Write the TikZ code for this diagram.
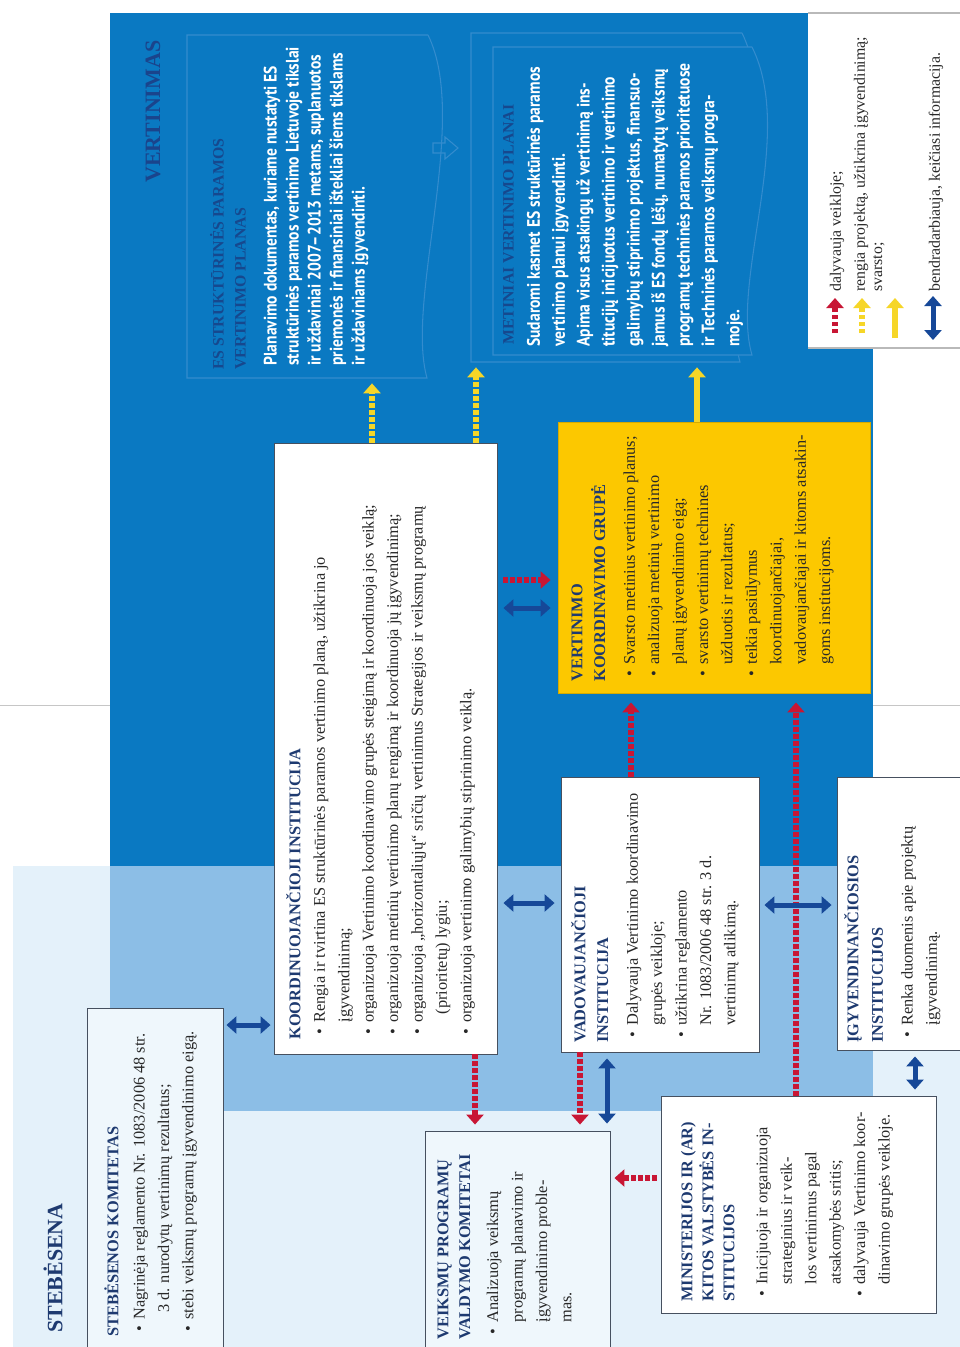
\documentclass[tikz,border=0pt]{standalone}
\usepackage{fontspec}
\setmainfont{Liberation Serif}
\newfontfamily\docfont[FakeStretch=0.86]{PT Sans}
\usetikzlibrary{arrows.meta,fit}
\definecolor{vertblue}{RGB}{10,121,194}
\definecolor{overblue}{RGB}{140,190,230}
\definecolor{stebpale}{RGB}{228,241,250}
\definecolor{navy}{RGB}{30,58,112}
\definecolor{vertnavy}{RGB}{26,68,140}
\definecolor{docnavy}{RGB}{22,72,142}
\definecolor{doclinecol}{RGB}{52,140,206}
\definecolor{grupyel}{RGB}{252,200,0}
\definecolor{arrred}{RGB}{200,22,52}
\definecolor{arryel}{RGB}{246,214,40}
\definecolor{arrblue}{RGB}{22,72,152}
\definecolor{boxline}{RGB}{70,80,95}
\definecolor{bodytext}{RGB}{40,40,40}

\newcommand{\boxhead}[1]{{\color{navy}\bfseries #1}}
\newcommand{\itm}{\hspace*{0.3em}\makebox[0.75em][l]{\textbullet}}
\newcommand{\ind}{\hspace*{1.05em}}

\begin{document}
\begin{tikzpicture}[x=0.02cm, y=-0.02cm,
    instbox/.style={draw=boxline, line width=0.5pt, inner sep=0pt},
    whitebox/.style={instbox, fill=white},
    palebox/.style={instbox, fill=stebpale!60!white},
    boxtext/.style={rotate=90, anchor=north west, inner sep=0pt, align=left, text=bodytext, font=\fontsize{9.3}{13.9}\selectfont},
    doctext/.style={rotate=90, anchor=north west, inner sep=0pt, align=left, text=white, font=\docfont\bfseries\fontsize{10.3}{12.5}\selectfont},
    doctitle/.style={rotate=90, anchor=north west, inner sep=0pt, align=left, text=docnavy, font=\bfseries\fontsize{9}{12.5}\selectfont},
    bigtitle/.style={rotate=90, anchor=west, inner sep=0pt, text=navy, font=\bfseries\fontsize{12.5}{15}\selectfont},
    legtext/.style={rotate=90, anchor=west, inner sep=0pt, text=bodytext, font=\fontsize{9}{11}\selectfont},
    docoutline/.style={draw=doclinecol, line width=0.6pt},
    redarr/.style={draw=arrred, line width=0.11cm, dash pattern=on 0.09cm off 0.05cm, -{Triangle[width=0.34cm,length=0.2cm]}},
    yelarr/.style={draw=arryel, line width=0.11cm, dash pattern=on 0.09cm off 0.05cm, -{Triangle[width=0.34cm,length=0.2cm]}},
    yelsolid/.style={draw=arryel, line width=0.11cm, -{Triangle[width=0.34cm,length=0.2cm]}},
    bluearr/.style={draw=arrblue, line width=0.1cm, {Triangle[width=0.34cm,length=0.2cm]}-{Triangle[width=0.34cm,length=0.2cm]}}]
\useasboundingbox (0,0) rectangle (960,1347);

% areas
\fill[stebpale] (13,866) rectangle (960,1347);
\fill[vertblue] (110,13) rectangle (873,866);
\fill[overblue] (110,866) rectangle (873,1111);
\fill[white] (808,13) rectangle (960,348);
\draw[gray!55, line width=0.6pt] (808,13) -- (960,13) (808,348) -- (960,348);
\draw[gray!45, line width=0.5pt] (0,705) -- (110,705) (873,705) -- (960,705);

\node[bigtitle] (stebttl) at (53,1333) {STEBĖSENA};
\node[bigtitle, text=vertnavy] (vertttl) at (153,183) {VERTINIMAS};

% documents
\node[fit={(187,35) (447,378)}, inner sep=0pt] (esplan) {};
\node[fit={(471,33) (760,362)}, inner sep=0pt] (metplan) {};
\draw[docoutline] (428,35) -- (187,35) -- (187,378) -- (427,378) .. controls (405,300) and (470,120) .. (428,35);
\draw[docoutline] (433,143) -- (445,143) -- (445,137) -- (458,148) -- (445,159) -- (445,153) -- (433,153) -- cycle;
\draw[docoutline] (742,33) -- (471,33) -- (471,362) -- (740,362) .. controls (718,285) and (785,120) .. (742,33);
\draw[docoutline, fill=vertblue] (752,47) -- (493,47) -- (493,355) -- (752,355) .. controls (730,280) and (796,135) .. (752,47);

\node[doctitle] (estitle) at (208,370) {\strut ES STRUKTŪRINĖS PARAMOS\\VERTINIMO PLANAS};
\node[doctext] (esbody) at (261,366) {\strut Planavimo dokumentas, kuriame nustatyti ES\\
struktūrinės paramos vertinimo Lietuvoje tikslai\\
ir uždaviniai 2007–2013 metams, suplanuotos\\
priemonės ir finansiniai ištekliai šiems tikslams\\
ir uždaviniams įgyvendinti.};

\node[doctitle] (mettitle) at (498,345) {\strut METINIAI VERTINIMO PLANAI};
\node[doctext, font=\docfont\bfseries\fontsize{10.3}{14.2}\selectfont] (metbody) at (522,347) {\strut Sudaromi kasmet ES struktūrinės paramos\\
vertinimo planui įgyvendinti.\\
Apima visus atsakingų už vertinimą ins-\\
titucijų inicijuotus vertinimo ir vertinimo\\
galimybių stiprinimo projektus, finansuo-\\
jamus iš ES fondų lėšų, numatytų veiksmų\\
programų techninės paramos prioritetuose\\
ir Techninės paramos veiksmų progra-\\
moje.};

% boxes
\node[palebox, fit={(87,1008) (223,1360)}] (steb) {};
\node[whitebox, fit={(274,443) (497,1054)}] (koord) {};
\node[instbox, draw=grupyel!85!black, fill=grupyel, fit={(558,422) (870,693)}] (vkg) {};
\node[whitebox, fit={(561,777) (759,1052)}] (vadov) {};
\node[whitebox, fit={(837,777) (975,1050)}] (igyv) {};
\node[whitebox, fit={(661,1096) (936,1313)}] (minist) {};
\node[palebox, fit={(425,1131) (610,1360)}] (veiksmu) {};

\node[boxtext] (stebtxt) at (101,1337) {\strut\boxhead{STEBĖSENOS KOMITETAS}\\[1pt]
\itm Nagrinėja reglamento Nr. 1083/2006 48 str.\\
\ind\hspace*{0.4em}3 d. nurodytų vertinimų rezultatus;\\
\itm stebi veiksmų programų įgyvendinimo eigą.};

\node[boxtext] (koordtxt) at (283,1040) {\strut\boxhead{KOORDINUOJANČIOJI INSTITUCIJA}\\
\itm Rengia ir tvirtina ES struktūrinės paramos vertinimo planą, užtikrina jo\\
\ind įgyvendinimą;\\
\itm organizuoja Vertinimo koordinavimo grupės steigimą ir koordinuoja jos veiklą;\\
\itm organizuoja metinių vertinimo planų rengimą ir koordinuoja jų įgyvendinimą;\\
\itm organizuoja „horizontaliųjų“ sričių vertinimus Strategijos ir veiksmų programų\\
\ind\hspace*{0.5em}(prioritetų) lygiu;\\
\itm organizuoja vertinimo galimybių stiprinimo veiklą.};

\node[boxtext] (vkgtxt) at (565,682) {\strut\boxhead{VERTINIMO}\\[-1pt]
\boxhead{KOORDINAVIMO GRUPĖ}\\[3pt]
\itm Svarsto metinius vertinimo planus;\\
\itm analizuoja metinių vertinimo\\
\ind planų įgyvendinimo eigą;\\
\itm svarsto vertinimų technines\\
\ind užduotis ir rezultatus;\\
\itm teikia pasiūlymus\\
\ind koordinuojančiajai,\\
\ind vadovaujančiajai ir kitoms atsakin-\\
\ind goms institucijoms.};

\node[boxtext] (vadovtxt) at (568,1043) {\strut\boxhead{VADOVAUJANČIOJI}\\[-1pt]
\boxhead{INSTITUCIJA}\\[3pt]
\itm Dalyvauja Vertinimo koordinavimo\\
\ind grupės veikloje;\\
\itm užtikrina reglamento\\
\ind Nr. 1083/2006 48 str. 3 d.\\
\ind vertinimų atlikimą.};

\node[boxtext] (igyvtxt) at (841,1043) {\strut\boxhead{ĮGYVENDINANČIOSIOS}\\
\boxhead{INSTITUCIJOS}\\[3pt]
\itm Renka duomenis apie projektų\\
\ind įgyvendinimą.};

\node[boxtext] (ministtxt) at (675,1302) {\strut\boxhead{MINISTERIJOS IR (AR)}\\[-2pt]
\boxhead{KITOS VALSTYBĖS IN-}\\[-2pt]
\boxhead{STITUCIJOS}\\[5pt]
\itm Inicijuoja ir organizuoja\\
\ind strateginius ir veik-\\
\ind los vertinimus pagal\\
\ind atsakomybės sritis;\\
\itm dalyvauja Vertinimo koor-\\
\ind dinavimo grupės veikloje.};

\node[boxtext] (veiksmutxt) at (431,1340) {\strut\boxhead{VEIKSMŲ PROGRAMŲ}\\[-1.5pt]
\boxhead{VALDYMO KOMITETAI}\\[2pt]
\itm Analizuoja veiksmų\\
\ind programų planavimo ir\\
\ind įgyvendinimo proble-\\
\ind mas.};

% legend
\node[legtext] (lgred) at (837,292) {dalyvauja veikloje;};
\node[legtext] (lgyel) at (861,292) {rengia projektą, užtikrina įgyvendinimą;};
\node[legtext] (lgsol) at (879,292) {svarsto;};
\node[legtext] (lgblu) at (936,292) {bendradarbiauja, keičiasi informacija.};
\coordinate (lgra) at (835,333); \coordinate (lgrb) at (835,298);
\coordinate (lgya) at (862,333); \coordinate (lgyb) at (862,298);
\coordinate (lgsa) at (895,338); \coordinate (lgsb) at (895,298);
\coordinate (lgba) at (933,340); \coordinate (lgbb) at (933,296);
\draw[redarr] (lgra) -- (lgrb);
\draw[yelarr] (lgya) -- (lgyb);
\draw[yelsolid] (lgsa) -- (lgsb);
\draw[bluearr] (lgba) -- (lgbb);

% connectors
\coordinate (cola) at (372,0);
\coordinate (colb) at (476,0);
\coordinate (colc) at (697,0);
\coordinate (cold) at (631,0);
\coordinate (cole) at (796,0);
\coordinate (colf) at (475,0);
\coordinate (colg) at (580,0);
\coordinate (colh) at (607,0);
\coordinate (coli) at (915,0);
\coordinate (rowkvr) at (0,580);
\coordinate (rowkvb) at (0,608);
\coordinate (rowka) at (0,903);
\coordinate (rowvi) at (0,905);
\coordinate (rowsk) at (0,1025);
\coordinate (rowmv) at (0,1178);

\draw[yelarr, shorten >=0.1cm] (koord.north -| cola) -- (esplan.south -| cola);
\draw[yelarr, shorten >=0.1cm] (koord.north -| colb) -- (metplan.south -| colb);
\draw[yelsolid, shorten >=0.1cm] (vkg.north -| colc) -- (metplan.south -| colc);

\draw[redarr, shorten <=0.12cm, shorten >=0.14cm] (koord.east |- rowkvr) -- (vkg.west |- rowkvr);
\draw[bluearr, shorten <=0.12cm, shorten >=0.14cm] (koord.east |- rowkvb) -- (vkg.west |- rowkvb);
\draw[redarr, shorten >=0.18cm] (vadov.north -| cold) -- (vkg.south -| cold);
\draw[redarr, shorten >=0.18cm] (minist.north -| cole) -- (vkg.south -| cole);
\draw[bluearr, shorten <=0.1cm, shorten >=0.1cm] (vadov.east |- rowvi) -- (igyv.west |- rowvi);
\draw[bluearr, shorten <=0.12cm, shorten >=0.12cm] (koord.east |- rowka) -- (vadov.west |- rowka);
\draw[bluearr, shorten <=0.06cm, shorten >=0.06cm] (steb.east |- rowsk) -- (koord.west |- rowsk);
\draw[redarr, shorten >=0.12cm] (koord.south -| colf) -- (veiksmu.north -| colf);
\draw[redarr, shorten >=0.12cm] (vadov.south -| colg) -- (veiksmu.north -| colg);
\draw[bluearr, shorten <=0.12cm, shorten >=0.14cm] (vadov.south -| colh) -- (veiksmu.north -| colh);
\draw[redarr, shorten <=0.08cm, shorten >=0.08cm] (minist.west |- rowmv) -- (veiksmu.east |- rowmv);
\draw[bluearr, shorten <=0.12cm, shorten >=0.12cm] (igyv.south -| coli) -- (minist.north -| coli);
\end{tikzpicture}
\end{document}
